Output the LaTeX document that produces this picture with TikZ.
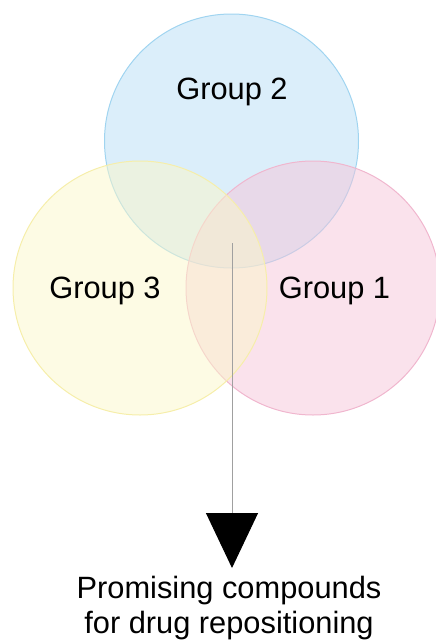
\documentclass[tikz,border=0pt]{standalone}
\usepackage{fontspec}
\setmainfont{Liberation Sans}
\usetikzlibrary{arrows.meta}
\definecolor{bluebase}{RGB}{183,221,245}
\definecolor{bluestroke}{RGB}{160,212,240}
\definecolor{yellowbase}{RGB}{251,247,201}
\definecolor{yellowstroke}{RGB}{246,238,170}
\definecolor{pinkbase}{RGB}{245,197,217}
\definecolor{pinkstroke}{RGB}{240,182,206}
\definecolor{linegray}{HTML}{A0A0A0}
\begin{document}
\begin{tikzpicture}[x=1pt,y=-1pt,
  venn/.style={circle, minimum size=254pt, inner sep=0pt, line width=1pt, fill opacity=0.5},
  lbl/.style={font=\fontsize{30.8}{35}\selectfont, inner sep=0pt, text=black}]
\useasboundingbox (0,0) rectangle (436,640);
\node[venn, fill=bluebase, draw=bluestroke] (g2) at (231.5,141) {};
\node[venn, fill=pinkbase, draw=pinkstroke] (g1) at (313,288) {};
\node[venn, fill=yellowbase, draw=yellowstroke] (g3) at (140,288) {};
\node[lbl, anchor=base] (t2) at (232,99) {Group 2};
\node[lbl, anchor=base] (t3) at (105,298) {Group 3};
\node[lbl, anchor=base] (t1) at (334.5,298) {Group 1};
\coordinate (start) at (232,243);
\coordinate (tip) at (232,568);
\node[lbl, anchor=north, align=center] (res) at (229,576) {Promising compounds\\for drug repositioning};
\draw[linegray, line width=1pt, -{Triangle[width=52pt,length=55pt,fill=black,color=black]}] (start) -- (tip);
\end{tikzpicture}
\end{document}
